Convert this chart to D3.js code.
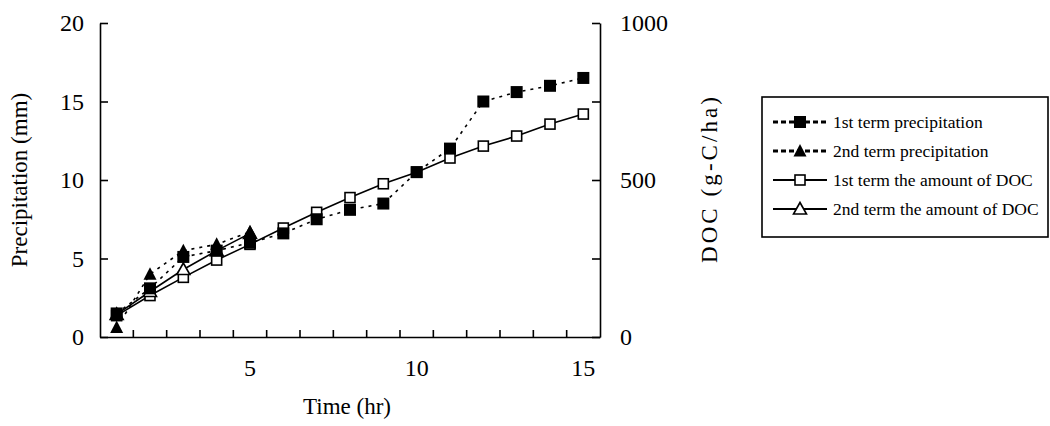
<!DOCTYPE html>
<html>
<head>
<meta charset="utf-8">
<script src="https://cdn.jsdelivr.net/npm/d3@7"></script>
<style>
  body { margin: 0; background: #fff; }
  text { font-family: "Liberation Serif", "Times New Roman", serif; fill: #000; }
</style>
</head>
<body>
<div id="chart"></div>
<script>
// hours on the category axis
const hours = [1, 2, 3, 4, 5, 6, 7, 8, 9, 10, 11, 12, 13, 14, 15];
const hourLabels = [5, 10, 15];

// left axis (mm)
const precip1 = [1.5, 3.1, 5.1, 5.5, 6.0, 6.6, 7.5, 8.1, 8.5, 10.5, 12.0, 15.0, 15.6, 16.0, 16.5];
const precip2 = [0.6, 4.0, 5.5, 5.9, 6.7];
// right axis (g-C/ha)
const doc1 = [68, 132, 190, 245, 295, 347, 397, 444, 488, 525, 570, 608, 640, 678, 710];
const doc2 = [72, 145, 215, 275, 330];

const leftTicks = [0, 5, 10, 15, 20];
const rightTicks = [0, 250, 500, 750, 1000];

const legendNames = [
    '1st term precipitation',
    '2nd term precipitation',
    '1st term the amount of DOC',
    '2nd term the amount of DOC'
];

const width = 1050;
const height = 426;
const plot = {left: 100, right: 600, top: 23, bottom: 337};

const svg = d3.select('#chart').append('svg')
    .attr('width', width)
    .attr('height', height);

const x = d3.scaleBand()
    .domain(hours)
    .range([plot.left, plot.right]);
const cx = d => x(d) + x.bandwidth() / 2;

const yL = d3.scaleLinear().domain([0, 20]).range([plot.bottom, plot.top]);
const yR = d3.scaleLinear().domain([0, 1000]).range([plot.bottom, plot.top]);

// axes
const axL = svg.append('g')
    .attr('transform', `translate(${plot.left},0)`)
    .call(d3.axisLeft(yL).tickValues(leftTicks).tickSizeInner(-8).tickSizeOuter(0).tickPadding(16));

const axR = svg.append('g')
    .attr('transform', `translate(${plot.right},0)`)
    .call(d3.axisRight(yR).tickValues(rightTicks).tickSizeInner(-8).tickSizeOuter(0).tickPadding(20)
        .tickFormat(d => d % 500 === 0 ? d : ''));

const axB = svg.append('g')
    .attr('transform', `translate(0,${plot.bottom})`)
    .call(d3.axisBottom(x).tickValues(hourLabels).tickSize(0).tickPadding(22));

// category separators, pointing up into the plot
axB.selectAll('.sep')
    .data(hours.slice(0, -1))
    .join('line')
    .attr('class', 'sep')
    .attr('x1', d => x(d) + x.bandwidth())
    .attr('x2', d => x(d) + x.bandwidth())
    .attr('y1', 0)
    .attr('y2', -7);

[axL, axR, axB].forEach(g => {
    g.selectAll('path.domain, line').attr('stroke', '#000').attr('stroke-width', 1.6);
    g.selectAll('text').attr('font-size', 24).attr('fill', '#000')
        .attr('font-family', '"Liberation Serif", "Times New Roman", serif');
});

// axis titles
svg.append('text')
    .attr('transform', `translate(27,${(plot.top + plot.bottom) / 2}) rotate(-90)`)
    .attr('text-anchor', 'middle')
    .attr('font-size', 23)
    .text('Precipitation (mm)');

svg.append('text')
    .attr('transform', `translate(717,180) rotate(-90)`)
    .attr('text-anchor', 'middle')
    .attr('font-size', 23)
    .attr('textLength', 166)
    .attr('lengthAdjust', 'spacing')
    .text('DOC (g-C/ha)');

svg.append('text')
    .attr('x', 347)
    .attr('y', 414)
    .attr('text-anchor', 'middle')
    .attr('font-size', 23)
    .text('Time (hr)');

// marker drawing
function marker(g, kind, px, py) {
    if (kind === 'fsq') {
        g.append('rect').attr('x', px - 6).attr('y', py - 6).attr('width', 12).attr('height', 12)
            .attr('fill', '#000');
    } else if (kind === 'osq') {
        g.append('rect').attr('x', px - 5).attr('y', py - 5).attr('width', 10).attr('height', 10)
            .attr('fill', '#fff').attr('stroke', '#000').attr('stroke-width', 1.6);
    } else if (kind === 'ftri') {
        g.append('path').attr('d', `M${px},${py - 7}L${px + 6.5},${py + 5.5}L${px - 6.5},${py + 5.5}Z`)
            .attr('fill', '#000');
    } else {
        g.append('path').attr('d', `M${px},${py - 6.5}L${px + 6.5},${py + 5}L${px - 6.5},${py + 5}Z`)
            .attr('fill', '#fff').attr('stroke', '#000').attr('stroke-width', 1.6);
    }
}

const series = [
    {vals: doc1, y: yR, kind: 'osq', dash: null},
    {vals: doc2, y: yR, kind: 'otri', dash: null},
    {vals: precip1, y: yL, kind: 'fsq', dash: '3,5'},
    {vals: precip2, y: yL, kind: 'ftri', dash: '3,5'}
];

series.forEach(s => {
    const pts = s.vals.map((v, i) => [cx(hours[i]), s.y(v)]);
    svg.append('path')
        .attr('d', d3.line()(pts))
        .attr('fill', 'none')
        .attr('stroke', '#000')
        .attr('stroke-width', s.dash ? 1.6 : 1.6)
        .attr('stroke-dasharray', s.dash);
    const g = svg.append('g');
    pts.forEach(p => marker(g, s.kind, p[0], p[1]));
});

// legend
const leg = svg.append('g');
leg.append('rect')
    .attr('x', 762).attr('y', 97).attr('width', 286).attr('height', 140)
    .attr('fill', '#fff').attr('stroke', '#000').attr('stroke-width', 1.6);

const legKinds = [
    {kind: 'fsq', dash: '5,3'},
    {kind: 'ftri', dash: '5,3'},
    {kind: 'osq', dash: null},
    {kind: 'otri', dash: null}
];
legendNames.forEach((name, i) => {
    const yy = 122 + i * 29;
    leg.append('line')
        .attr('x1', 773).attr('x2', 827).attr('y1', yy).attr('y2', yy)
        .attr('stroke', '#000')
        .attr('stroke-width', legKinds[i].dash ? 3 : 2)
        .attr('stroke-dasharray', legKinds[i].dash);
    marker(leg, legKinds[i].kind, 800, yy);
    leg.append('text')
        .attr('x', 833).attr('y', yy)
        .attr('dy', '0.35em')
        .attr('font-size', 17.5)
        .text(name);
});
</script>
</body>
</html>
